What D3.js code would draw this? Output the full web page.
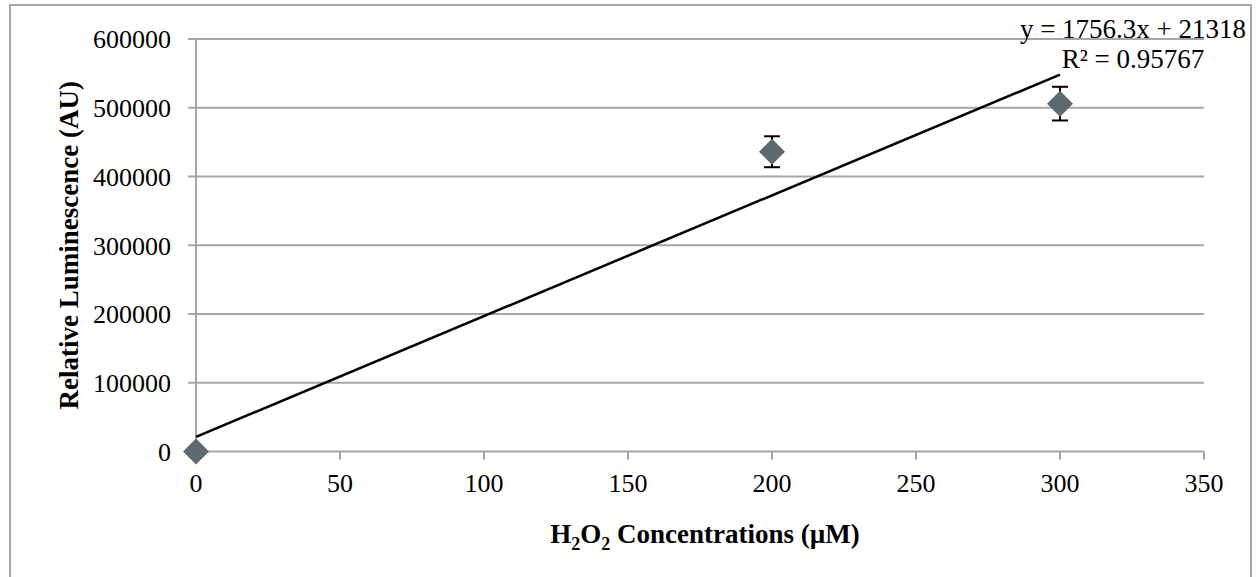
<!DOCTYPE html>
<html><head><meta charset="utf-8">
<script src="https://cdn.jsdelivr.net/npm/d3@7"></script>
<style>body{margin:0;background:#fff}svg{display:block}text{font-family:"Liberation Serif","Times New Roman",serif;fill:#000}</style>
</head><body>
<svg id="chart" width="1259" height="577"></svg>
<script>
const concentrations = [0, 200, 300];
const luminescence = [0, 436000, 506000];
const errors = [0, 22500, 24500];
const xTicks = [0, 50, 100, 150, 200, 250, 300, 350];
const yTicks = [0, 100000, 200000, 300000, 400000, 500000, 600000];
const slope = 1756.3, intercept = 21318;
const eqLines = ["y = 1756.3x + 21318", "R² = 0.95767"];

const svg = d3.select("#chart");
const m = {l:196, r:1204, t:39, b:451.5};
const x = d3.scaleLinear().domain([0,350]).range([m.l, m.r]);
const y = d3.scaleLinear().domain([0,600000]).range([m.b, m.t]);
const grid = "#a6a6a6";

svg.append("rect").attr("x",10).attr("y",5).attr("width",1241).attr("height",620)
  .attr("fill","none").attr("stroke",grid).attr("stroke-width",2);

// gridlines
svg.append("g").selectAll("line").data(yTicks).join("line")
  .attr("x1",m.l-8).attr("x2",m.r).attr("y1",d=>y(d)).attr("y2",d=>y(d))
  .attr("stroke",grid).attr("stroke-width",2);
// y axis line
svg.append("line").attr("x1",m.l).attr("x2",m.l).attr("y1",m.t).attr("y2",m.b)
  .attr("stroke",grid).attr("stroke-width",2);
// x ticks
svg.append("g").selectAll("line").data(xTicks).join("line")
  .attr("x1",d=>x(d)).attr("x2",d=>x(d)).attr("y1",m.b).attr("y2",m.b+8)
  .attr("stroke",grid).attr("stroke-width",2);

// tick labels
svg.append("g").selectAll("text").data(yTicks).join("text")
  .attr("x",171).attr("y",d=>y(d)).attr("dy","0.36em").attr("text-anchor","end")
  .style("font-size","26px").text(d=>d);
svg.append("g").selectAll("text").data(xTicks).join("text")
  .attr("x",d=>x(d)).attr("y",492).attr("text-anchor","middle")
  .style("font-size","26px").text(d=>d);

// axis titles
const xt = svg.append("text").attr("x",705).attr("y",543).attr("text-anchor","middle")
  .style("font-size","27px").style("font-weight","bold");
xt.append("tspan").text("H");
xt.append("tspan").text("2").attr("dy",7).style("font-size","18px");
xt.append("tspan").text("O").attr("dy",-7);
xt.append("tspan").text("2").attr("dy",7).style("font-size","18px");
xt.append("tspan").text(" Concentrations (µM)").attr("dy",-7);

svg.append("text").attr("transform",`translate(78,${(m.t+m.b)/2}) rotate(-90)`)
  .attr("text-anchor","middle").style("font-size","27px").style("font-weight","bold")
  .text("Relative Luminescence (AU)");

// trendline
svg.append("line").attr("x1",x(0)).attr("y1",y(intercept))
  .attr("x2",x(300)).attr("y2",y(slope*300+intercept))
  .attr("stroke","#000").attr("stroke-width",2.5);

// error bars
const pts = concentrations.map((c,i)=>({c, v:luminescence[i], e:errors[i]})).filter(d=>d.e>0);
const eb = svg.append("g").attr("stroke","#000").attr("stroke-width",2);
eb.selectAll(".v").data(pts).join("line")
  .attr("x1",d=>x(d.c)).attr("x2",d=>x(d.c)).attr("y1",d=>y(d.v+d.e)).attr("y2",d=>y(d.v-d.e));
eb.selectAll(".t").data(pts).join("line")
  .attr("x1",d=>x(d.c)-8).attr("x2",d=>x(d.c)+8).attr("y1",d=>y(d.v+d.e)).attr("y2",d=>y(d.v+d.e));
eb.selectAll(".b").data(pts).join("line")
  .attr("x1",d=>x(d.c)-8).attr("x2",d=>x(d.c)+8).attr("y1",d=>y(d.v-d.e)).attr("y2",d=>y(d.v-d.e));

// markers
svg.append("g").selectAll("path").data(concentrations).join("path")
  .attr("d", (d,i)=>{const cx=x(d), cy=y(luminescence[i]), r=13;
    return `M${cx},${cy-r}L${cx+r},${cy}L${cx},${cy+r}L${cx-r},${cy}Z`;})
  .attr("fill","#5d6a72");

// equation
svg.append("g").selectAll("text").data(eqLines).join("text")
  .attr("x",1133).attr("y",(d,i)=>38+i*30).attr("text-anchor","middle")
  .style("font-size","27px").text(d=>d);
</script>
</body></html>
